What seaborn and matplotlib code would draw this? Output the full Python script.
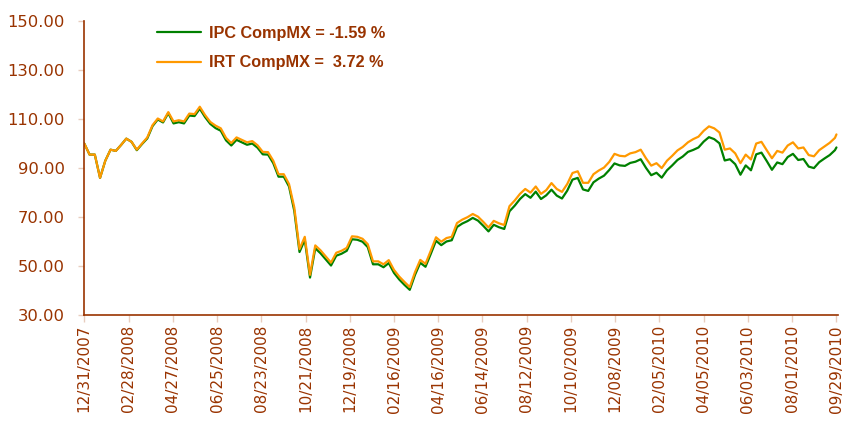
import pandas as pd
import matplotlib.pyplot as plt
import matplotlib.dates as mdates
import seaborn as sns

# weekly readings from 12/31/2007, last point on 09/29/2010
start = pd.Timestamp('2007-12-31')
end = pd.Timestamp('2010-09-29')
dates = list(pd.date_range(start, periods=144, freq='7D')) + [end]

irt = [100.0, 95.5, 95.5, 86.0, 93.0, 97.5, 97.0, 99.4, 102.0, 100.7,
       97.5, 100.0, 102.5, 107.5, 110.2, 109.0, 112.8, 109.0, 109.5, 109.0,
       112.2, 112.0, 115.0, 111.6, 108.8, 107.3, 106.2, 102.3, 100.2, 102.5,
       101.5, 100.5, 101.0, 99.3, 96.6, 96.5, 93.0, 87.5, 87.5, 83.5,
       74.0, 57.0, 62.0, 46.5, 58.5, 56.5, 54.0, 51.5, 55.5, 56.3,
       57.5, 62.2, 62.0, 61.2, 59.0, 52.0, 52.0, 50.8, 52.5, 48.5,
       45.8, 43.6, 41.5, 47.6, 52.6, 51.0, 56.3, 61.8, 60.0, 61.5,
       62.0, 67.6, 69.0, 70.0, 71.3, 70.2, 68.1, 65.8, 68.5, 67.5,
       66.8, 74.5, 76.8, 79.5, 81.5, 80.0, 82.5, 79.5, 81.0, 83.9,
       81.5, 80.3, 83.5, 88.0, 88.7, 84.0, 84.0, 87.5, 89.0, 90.2,
       92.5, 95.8, 95.0, 94.8, 96.0, 96.5, 97.5, 94.0, 91.0, 92.0,
       90.0, 93.0, 95.0, 97.2, 98.6, 100.5, 101.8, 102.8, 105.2, 107.0,
       106.2, 104.5, 97.5, 98.0, 96.0, 92.0, 95.5, 93.5, 100.0, 100.7,
       97.3, 94.0, 97.0, 96.3, 99.2, 100.5, 98.0, 98.4, 95.3, 94.8,
       97.3, 98.8, 100.3, 102.3, 103.72]

ipc = [100.0, 95.5, 95.5, 86.0, 93.0, 97.5, 97.0, 99.4, 102.0, 100.7,
       97.3, 99.8, 102.1, 107.1, 109.8, 108.6, 112.4, 108.2, 108.7, 108.2,
       111.4, 111.2, 114.2, 110.8, 108.0, 106.3, 105.2, 101.3, 99.2, 101.5,
       100.5, 99.5, 100.0, 98.3, 95.6, 95.5, 92.0, 86.5, 86.5, 82.5,
       72.6, 55.8, 60.8, 45.4, 57.3, 55.3, 52.8, 50.3, 54.3, 55.1,
       56.3, 61.0, 60.8, 60.0, 57.8, 50.8, 50.8, 49.6, 51.3, 47.3,
       44.6, 42.4, 40.4, 46.5, 51.4, 49.8, 55.0, 60.4, 58.6, 60.1,
       60.6, 66.0, 67.4, 68.4, 69.7, 68.6, 66.5, 64.2, 66.9, 65.9,
       65.2, 72.4, 74.7, 77.4, 79.4, 77.9, 80.4, 77.4, 78.9, 81.2,
       78.8, 77.6, 80.8, 85.3, 86.0, 81.3, 80.7, 84.2, 85.7, 86.9,
       89.2, 91.9, 91.1, 90.9, 92.1, 92.6, 93.6, 90.1, 87.1, 88.1,
       86.1, 89.1, 91.1, 93.3, 94.7, 96.6, 97.4, 98.4, 100.8, 102.6,
       101.8, 100.1, 93.1, 93.6, 91.6, 87.3, 91.1, 89.1, 95.6, 96.3,
       92.9, 89.3, 92.3, 91.6, 94.5, 95.8, 93.3, 93.7, 90.6, 90.0,
       92.4, 93.9, 95.3, 97.3, 98.41]

ipc_label = 'IPC CompMX = -1.59 %'
irt_label = 'IRT CompMX =  3.72 %'
tick_dates = pd.date_range(start, periods=18, freq='59D')

df = pd.DataFrame({
    'date': dates * 2,
    'value': ipc + irt,
    'serie': [ipc_label] * len(dates) + [irt_label] * len(dates),
})

brown = '#993300'
sns.set_theme(style='white')
plt.rcParams['font.family'] = ['DejaVu Sans']

fig = plt.figure(figsize=(8.43, 4.25), dpi=100)
ax = fig.add_axes([0.1, 0.258, 0.894, 0.693])

sns.lineplot(data=df, x='date', y='value', hue='serie',
             hue_order=[ipc_label, irt_label],
             palette=['#008000', '#FF9900'], linewidth=1.6,
             ax=ax, legend=False)

ax.set_ylim(30, 150)
ax.set_yticks(range(30, 151, 20))
ax.yaxis.set_major_formatter(plt.FormatStrFormatter('%.2f'))
ax.set_xlim(start, pd.Timestamp('2010-10-01'))
ax.set_xticks(tick_dates)
ax.xaxis.set_major_formatter(mdates.DateFormatter('%m/%d/%Y'))
ax.set_xlabel('')
ax.set_ylabel('')

for s in ['top', 'right']:
    ax.spines[s].set_visible(False)
for s in ['left', 'bottom']:
    ax.spines[s].set_color(brown)
    ax.spines[s].set_linewidth(1.2)

ax.tick_params(axis='y', left=True, direction='out', length=4, width=1,
               color='#E8CDBE', labelcolor=brown, labelsize=11.8, pad=10)
ax.tick_params(axis='x', bottom=True, direction='out', length=5, width=1,
               color='#E8CDBE', labelcolor=brown, labelsize=11, pad=2,
               labelrotation=90)

ax.legend(ax.lines[:2], [ipc_label, irt_label], loc='upper left',
          bbox_to_anchor=(157 / 843, 0.939), bbox_transform=fig.transFigure,
          frameon=False, borderpad=0, borderaxespad=0, handlelength=2.7,
          handletextpad=0.5, labelspacing=0.89, labelcolor=brown,
          prop={'family': 'Liberation Sans', 'weight': 'bold', 'size': 11.7})

fig.savefig('out.png', dpi=100)
